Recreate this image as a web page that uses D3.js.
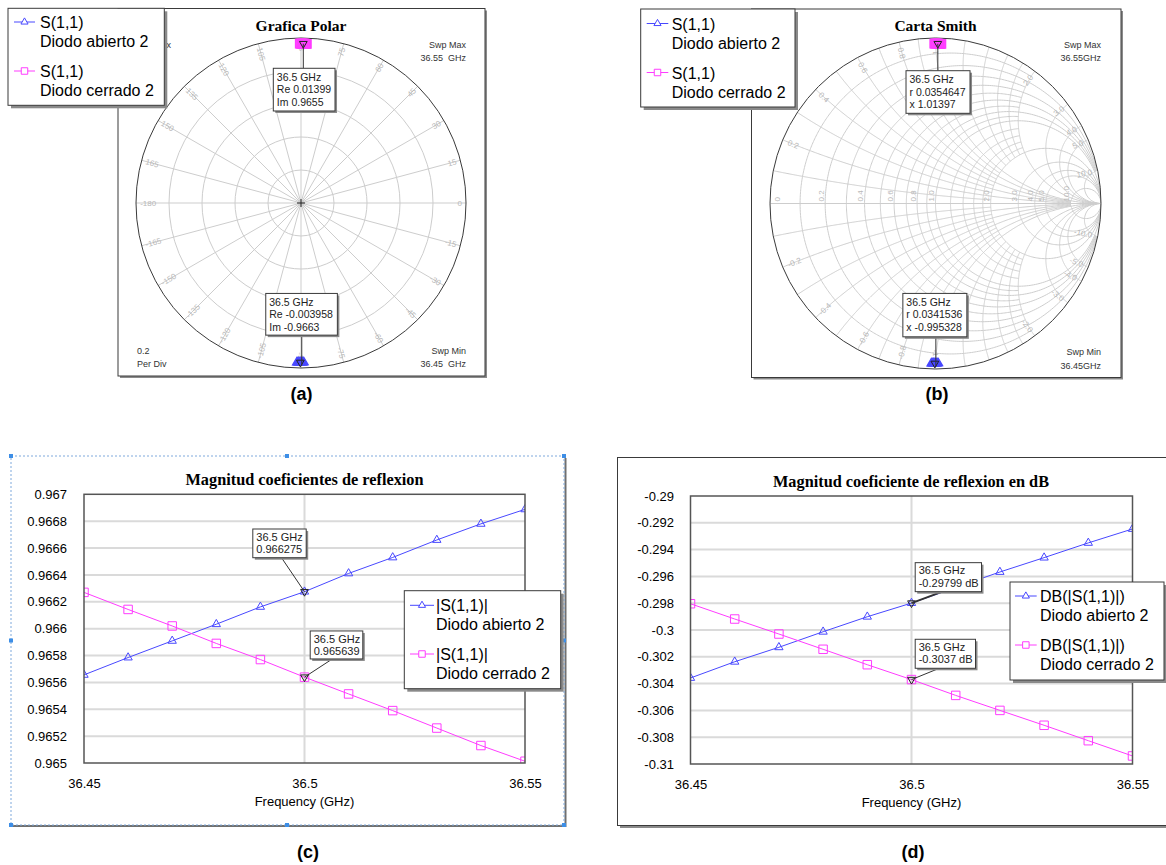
<!DOCTYPE html>
<html><head><meta charset="utf-8">
<script src="https://cdn.jsdelivr.net/npm/d3@7"></script>
<style>
body{margin:0;background:#fff;}
svg{display:block;}
</style></head><body>
<svg id="chart" width="1166" height="865"></svg>
<script>
// ---------------- DATA ----------------
const freqs = [36.45, 36.46, 36.47, 36.48, 36.49, 36.5, 36.51, 36.52, 36.53, 36.54, 36.55];
const magAbierto = [0.965656, 0.965785, 0.965909, 0.966033, 0.966162, 0.966275, 0.966411, 0.96653, 0.96666, 0.96678, 0.966888];
const magCerrado = [0.96627, 0.966143, 0.96602, 0.96589, 0.96577, 0.965639, 0.965514, 0.96539, 0.96526, 0.96513, 0.965013];
const dbAbierto = [-0.30358, -0.30237, -0.30129, -0.30013, -0.29901, -0.29799, -0.29683, -0.29567, -0.2946, -0.2935, -0.29246];
const dbCerrado = [-0.29804, -0.29918, -0.3003, -0.30144, -0.30259, -0.3037, -0.30488, -0.306, -0.30711, -0.30826, -0.3094];
const phaseAbierto = [-88.95, -89.2, -89.46, -89.72, -89.97, -90.23, -90.49, -90.75, -91.0, -91.26, -91.52];
const phaseCerrado = [90.45, 90.2, 89.95, 89.68, 89.42, 89.17, 88.92, 88.66, 88.4, 88.14, 87.88];
const markerFreq = 36.5;
const xTicks = [36.45, 36.5, 36.55];
const yTicksMag = [0.965, 0.9652, 0.9654, 0.9656, 0.9658, 0.966, 0.9662, 0.9664, 0.9666, 0.9668, 0.967];
const yTicksDb = [-0.31, -0.308, -0.306, -0.304, -0.302, -0.3, -0.298, -0.296, -0.294, -0.292, -0.29];
const polarRings = [0.2, 0.4, 0.6, 0.8, 1.0];
const polarAngles = [0, 15, 30, 45, 60, 75, 90, 105, 120, 135, 150, 165, -180, -165, -150, -135, -120, -105, -90, -75, -60, -45, -30, -15];
const smithRMajor = [0.2, 0.4, 0.6, 0.8, 1, 2, 3, 4, 5, 10];
const smithRMinor = [0.1, 0.3, 0.5, 0.7, 0.9, 1.2, 1.4, 1.6, 1.8];
const smithRLabels = ["0", "0.2", "0.4", "0.6", "0.8", "1.0", "2.0", "3.0", "4.0", "5.0", "10.0"];
const smithXLabels = ["0.2", "0.4", "0.6", "0.8", "1.0", "2.0", "3.0", "4.0", "5.0", "10.0"];
const readPolarCerrado = ["36.5 GHz", "Re 0.01399", "Im 0.9655"];
const readPolarAbierto = ["36.5 GHz", "Re -0.003958", "Im -0.9663"];
const readSmithCerrado = ["36.5 GHz", "r 0.0354647", "x 1.01397"];
const readSmithAbierto = ["36.5 GHz", "r 0.0341536", "x -0.995328"];
const readMagAbierto = ["36.5 GHz", "0.966275"];
const readMagCerrado = ["36.5 GHz", "0.965639"];
const readDbAbierto = ["36.5 GHz", "-0.29799 dB"];
const readDbCerrado = ["36.5 GHz", "-0.3037 dB"];

// ---------------- STYLE ----------------
const SANS = '"Liberation Sans", Arial, sans-serif';
const SERIF = '"Liberation Serif", "Times New Roman", serif';
const BLUE = "#4848ff", MAG = "#ff3cff";
const GRID = "#cdcdcd";
const svg = d3.select("#chart");
svg.append("rect").attr("width", 1166).attr("height", 865).attr("fill", "#fff");

const symTri = d3.symbol(d3.symbolTriangle, 30);
const symSq = d3.symbol(d3.symbolSquare, 72);
const symTriS = d3.symbol(d3.symbolTriangle, 22);
const symSqS = d3.symbol(d3.symbolSquare, 42);
const symMk = d3.symbol(d3.symbolTriangle, 26);

function shadowBox(g, x, y, w, h, off) {
  g.append("rect").attr("x", x + off).attr("y", y + off).attr("width", w).attr("height", h).attr("fill", "#8a8a8a");
  g.append("rect").attr("x", x).attr("y", y).attr("width", w).attr("height", h).attr("fill", "#fff").attr("stroke", "#3a3a3a").attr("stroke-width", 1);
}
function txt(g, x, y, s, size, opts = {}) {
  const t = g.append("text").attr("x", x).attr("y", y).text(s)
    .attr("font-family", opts.family || SANS).attr("font-size", size).attr("fill", opts.fill || "#000");
  if (opts.anchor) t.attr("text-anchor", opts.anchor);
  if (opts.weight) t.attr("font-weight", opts.weight);
  if (opts.pre) t.style("white-space", "pre");
  return t;
}
function legend(g, box, lx0, lx1, tx, rows) {
  shadowBox(g, box.x, box.y, box.w, box.h, 3);
  rows.forEach(r => {
    g.append("line").attr("x1", lx0).attr("x2", lx1).attr("y1", r.cy).attr("y2", r.cy).attr("stroke", r.color).attr("stroke-width", 1);
    g.append("path").attr("d", r.tri ? symTriS() : symSqS()).attr("transform", `translate(${(lx0 + lx1) / 2},${r.cy})`)
      .attr("fill", "#fff").attr("stroke", r.color).attr("stroke-width", 1);
    txt(g, tx, r.cy + 6, r.t1, 16);
    txt(g, tx, r.cy + 25, r.t2, 16);
  });
}
function readout(g, x, y, w, h, lines, size, lh, first) {
  shadowBox(g, x, y, w, h, 2);
  lines.forEach((s, i) => txt(g, x + 3.5, y + first + i * lh, s, size, {fill: "#222"}));
}
function invMarker(g, px, py) {
  g.append("path").attr("d", symMk()).attr("transform", `translate(${px},${py}) rotate(180)`)
    .attr("fill", "none").attr("stroke", "#222").attr("stroke-width", 1);
}

const iM = freqs.indexOf(markerFreq);
const gammaA = freqs.map((f, i) => [magAbierto[i] * Math.cos(phaseAbierto[i] * Math.PI / 180), magAbierto[i] * Math.sin(phaseAbierto[i] * Math.PI / 180)]);
const gammaC = freqs.map((f, i) => [magCerrado[i] * Math.cos(phaseCerrado[i] * Math.PI / 180), magCerrado[i] * Math.sin(phaseCerrado[i] * Math.PI / 180)]);

// ---------------- (a) POLAR ----------------
(function () {
  const g = svg.append("g");
  shadowBox(g, 118, 8.5, 367, 367.5, 2);
  const cx = 301, cy = 203, R = 165;
  const sx = d3.scaleLinear([-1, 1], [cx - R, cx + R]);
  const sy = d3.scaleLinear([-1, 1], [cy + R, cy - R]);
  polarAngles.forEach(a => {
    const t = a * Math.PI / 180;
    g.append("line").attr("x1", sx(0)).attr("y1", sy(0)).attr("x2", sx(Math.cos(t))).attr("y2", sy(Math.sin(t)))
      .attr("stroke", GRID).attr("stroke-width", 1);
  });
  polarRings.forEach(r => {
    g.append("circle").attr("cx", sx(0)).attr("cy", sy(0)).attr("r", sx(r) - sx(0)).attr("fill", "none")
      .attr("stroke", r === 1 ? "#3a3a3a" : GRID).attr("stroke-width", 1);
  });
  polarAngles.forEach(a => {
    const t = a * Math.PI / 180, rr = 0.975;
    const px = sx(rr * Math.cos(t)), py = sy(rr * Math.sin(t));
    const right = Math.abs(a) <= 90;
    const rot = right ? -a : 180 - a;
    txt(g, 0, 0, String(a), 8, {fill: "#b8b8b8", anchor: right ? "end" : "start"})
      .attr("dy", "0.35em").attr("transform", `translate(${px},${py}) rotate(${rot})`);
  });
  g.append("path").attr("d", `M${cx - 4},${cy}H${cx + 4}M${cx},${cy - 4}V${cy + 4}`).attr("stroke", "#222");
  txt(g, 301, 31, "Grafica Polar", 15.5, {family: SERIF, weight: "bold", anchor: "middle"});
  txt(g, 171, 48, "x", 9, {anchor: "end", fill: "#333"});
  txt(g, 466, 47.5, "Swp Max", 9, {anchor: "end", fill: "#333"});
  txt(g, 466, 61, "36.55  GHz", 9, {anchor: "end", fill: "#333", pre: true});
  txt(g, 466, 353.5, "Swp Min", 9, {anchor: "end", fill: "#333"});
  txt(g, 466, 367, "36.45  GHz", 9, {anchor: "end", fill: "#333", pre: true});
  txt(g, 137, 353.5, "0.2", 9, {fill: "#333"});
  txt(g, 137, 367, "Per Div", 9, {fill: "#333"});
  const line = d3.line().x(d => sx(d[0])).y(d => sy(d[1]));
  [[gammaC, MAG, false], [gammaA, BLUE, true]].forEach(([pts, col, tri]) => {
    g.append("path").attr("d", line(pts)).attr("fill", "none").attr("stroke", col);
    pts.forEach(p => g.append("path").attr("d", tri ? symTri() : symSq()).attr("transform", `translate(${sx(p[0])},${sy(p[1])})`)
      .attr("fill", "none").attr("stroke", col).attr("stroke-width", 1.3));
  });
  const pc = gammaC[iM], pa = gammaA[iM];
  invMarker(g, sx(pc[0]), sy(pc[1]));
  invMarker(g, sx(pa[0]), sy(pa[1]));
  g.append("line").attr("x1", sx(pc[0])).attr("x2", sx(pc[0])).attr("y1", sy(pc[1])).attr("y2", sy(pc[1]) + 25).attr("stroke", "#333");
  readout(g, sx(pc[0]) - 30, sy(pc[1]) + 24.6, 61.7, 42.7, readPolarCerrado, 10.5, 12.6, 12.3);
  g.append("line").attr("x1", sx(pa[0]) + 1.4).attr("x2", sx(pa[0]) + 1.4).attr("y1", sy(pa[1]) + 3).attr("y2", sy(pa[1]) - 28).attr("stroke", "#333");
  readout(g, sx(pa[0]) - 34.6, sy(pa[1]) - 69, 71.6, 41.7, readPolarAbierto, 10.5, 12.6, 12.3);
  legend(g, {x: 8, y: 8.3, w: 156.3, h: 97}, 14, 35, 40, [
    {cy: 22, color: BLUE, tri: true, t1: "S(1,1)", t2: "Diodo abierto 2"},
    {cy: 71, color: MAG, tri: false, t1: "S(1,1)", t2: "Diodo cerrado 2"}]);
  txt(svg, 301.5, 400, "(a)", 18, {weight: "bold", anchor: "middle"});
})();

// ---------------- (b) SMITH ----------------
(function () {
  const g = svg.append("g");
  shadowBox(g, 751.5, 9, 369.5, 368.5, 2);
  const cx = 935.5, cy = 203.5, R = 165.5;
  const sx = d3.scaleLinear([-1, 1], [cx - R, cx + R]);
  const sy = d3.scaleLinear([-1, 1], [cy + R, cy - R]);
  const gam = (r, x) => { const d = (r + 1) * (r + 1) + x * x; return [(r * r + x * x - 1) / d, 2 * x / d]; };
  const line = d3.line().x(d => sx(d[0])).y(d => sy(d[1]));
  const clipId = "smithClip";
  g.append("clipPath").attr("id", clipId).append("circle").attr("cx", cx).attr("cy", cy).attr("r", R);
  const gg = g.append("g").attr("clip-path", `url(#${clipId})`);
  function rCircle(r, X) {
    const tm = X === Infinity ? Math.PI / 2 - 1e-4 : Math.atan(X);
    const pts = d3.range(0, 401).map(k => { const t = -tm + 2 * tm * k / 400; return gam(r, Math.tan(t)); });
    gg.append("path").attr("d", line(pts)).attr("fill", "none").attr("stroke", GRID).attr("stroke-width", 1);
  }
  function xArc(x, Rm) {
    const um = Rm === Infinity ? Math.PI / 2 - 1e-4 : Math.atan(Rm);
    [x, -x].forEach(xx => {
      const pts = d3.range(0, 301).map(k => gam(Math.tan(um * k / 300), xx));
      gg.append("path").attr("d", line(pts)).attr("fill", "none").attr("stroke", GRID).attr("stroke-width", 1);
    });
  }
  smithRMinor.forEach(r => rCircle(r, 2));
  smithRMajor.forEach(r => rCircle(r, r < 1 ? 10 : Infinity));
  smithRMinor.forEach(x => xArc(x, 2));
  smithRMajor.forEach(x => xArc(x, x < 1 ? 10 : Infinity));
  gg.append("line").attr("x1", sx(-1)).attr("x2", sx(1)).attr("y1", sy(0)).attr("y2", sy(0)).attr("stroke", GRID);
  g.append("circle").attr("cx", cx).attr("cy", cy).attr("r", R).attr("fill", "none").attr("stroke", "#3a3a3a");
  smithRLabels.forEach(s => {
    const r = +s, p = gam(r, 0);
    const px = r === 0 ? sx(p[0]) + 10 : sx(p[0]) - 1.5;
    txt(g, 0, 0, s, 8, {fill: "#b8b8b8"}).attr("transform", `translate(${px},${sy(0) - 2}) rotate(-90)`);
  });
  smithXLabels.forEach(s => {
    [1, -1].forEach(sg => {
      const x = sg * (+s), p = gam(0, x);
      const a = Math.atan2(p[1], p[0]) * 180 / Math.PI;
      const rr = 0.965;
      const right = Math.abs(a) <= 90;
      txt(g, 0, 0, (sg < 0 ? "-" : "") + s, 8, {fill: "#b8b8b8", anchor: right ? "end" : "start"}).attr("dy", "0.35em")
        .attr("transform", `translate(${sx(rr * p[0])},${sy(rr * p[1])}) rotate(${right ? -a : 180 - a})`);
    });
  });
  txt(g, 935.5, 31, "Carta Smith", 15.5, {family: SERIF, weight: "bold", anchor: "middle"});
  txt(g, 1101, 47.5, "Swp Max", 9, {anchor: "end", fill: "#333"});
  txt(g, 1101, 61, "36.55GHz", 9, {anchor: "end", fill: "#333"});
  txt(g, 1101, 355, "Swp Min", 9, {anchor: "end", fill: "#333"});
  txt(g, 1101, 368.5, "36.45GHz", 9, {anchor: "end", fill: "#333"});
  [[gammaC, MAG, false], [gammaA, BLUE, true]].forEach(([pts, col, tri]) => {
    g.append("path").attr("d", line(pts)).attr("fill", "none").attr("stroke", col);
    pts.forEach(p => g.append("path").attr("d", tri ? symTri() : symSq()).attr("transform", `translate(${sx(p[0])},${sy(p[1])})`)
      .attr("fill", "none").attr("stroke", col).attr("stroke-width", 1.3));
  });
  const pc = gammaC[iM], pa = gammaA[iM];
  invMarker(g, sx(pc[0]), sy(pc[1]));
  invMarker(g, sx(pa[0]), sy(pa[1]));
  g.append("line").attr("x1", sx(pc[0])).attr("x2", sx(pc[0])).attr("y1", sy(pc[1])).attr("y2", sy(pc[1]) + 27).attr("stroke", "#333");
  readout(g, sx(pc[0]) - 31.8, sy(pc[1]) + 27, 64, 42.6, readSmithCerrado, 10.5, 12.6, 12.3);
  g.append("line").attr("x1", sx(pa[0]) + 1).attr("x2", sx(pa[0]) + 1).attr("y1", sy(pa[1]) + 3).attr("y2", sy(pa[1]) - 27).attr("stroke", "#333");
  readout(g, sx(pa[0]) - 32, sy(pa[1]) - 70, 64, 43.4, readSmithAbierto, 10.5, 12.6, 12.3);
  legend(g, {x: 640.7, y: 9, w: 154.3, h: 98}, 646.7, 668.3, 671.7, [
    {cy: 23.5, color: BLUE, tri: true, t1: "S(1,1)", t2: "Diodo abierto 2"},
    {cy: 72.5, color: MAG, tri: false, t1: "S(1,1)", t2: "Diodo cerrado 2"}]);
  txt(svg, 937, 400, "(b)", 18, {weight: "bold", anchor: "middle"});
})();

// ---------------- (c),(d) RECTANGULAR ----------------
function rectPanel(cfg) {
  const g = svg.append("g");
  const {x0, x1, y0, y1} = cfg;
  const x = d3.scaleLinear([xTicks[0], xTicks[xTicks.length - 1]], [x0, x1]);
  const y = d3.scaleLinear([cfg.yTicks[0], cfg.yTicks[cfg.yTicks.length - 1]], [y1, y0]);
  g.append("g").selectAll("line").data(cfg.yTicks.slice(1, -1)).join("line")
    .attr("x1", x0).attr("x2", x1).attr("y1", d => y(d)).attr("y2", d => y(d)).attr("stroke", "#dadada").attr("stroke-width", 2);
  g.append("g").selectAll("line").data(xTicks.slice(1, -1)).join("line")
    .attr("x1", d => x(d)).attr("x2", d => x(d)).attr("y1", y0).attr("y2", y1).attr("stroke", "#dadada").attr("stroke-width", 2);
  const ya = g.append("g").attr("transform", `translate(${x0},0)`)
    .call(d3.axisLeft(y).tickValues(cfg.yTicks).tickFormat(cfg.fmt).tickSize(0).tickPadding(x0 - cfg.labelRight));
  ya.select(".domain").remove();
  ya.attr("font-family", SANS).attr("font-size", 13).selectAll("text").attr("fill", "#000");
  const xa = g.append("g").attr("transform", `translate(0,${y1})`)
    .call(d3.axisBottom(x).tickValues(xTicks).tickFormat(d => String(d)).tickSize(0).tickPadding(16));
  xa.select(".domain").remove();
  xa.attr("font-family", SANS).attr("font-size", 13).selectAll("text").attr("fill", "#000");
  txt(g, x(36.5), y1 + 43, "Frequency (GHz)", 13, {anchor: "middle"});
  txt(g, cfg.titleX, y0 - 9.5, cfg.title, 16.3, {family: SERIF, weight: "bold", anchor: "middle"});
  g.append("clipPath").attr("id", cfg.id).append("rect").attr("x", x0).attr("y", y0).attr("width", x1 - x0).attr("height", y1 - y0);
  const pg = g.append("g").attr("clip-path", `url(#${cfg.id})`);
  const line = d3.line().x((d, i) => x(freqs[i])).y(d => y(d));
  cfg.series.forEach(s => {
    pg.append("path").attr("d", line(s.vals)).attr("fill", "none").attr("stroke", s.color).attr("stroke-width", 1);
    s.vals.forEach((v, i) => pg.append("path").attr("d", s.tri ? symTri() : symSq())
      .attr("transform", `translate(${x(freqs[i])},${y(v)})`).attr("fill", "none").attr("stroke", s.color).attr("stroke-width", 1));
  });
  g.append("rect").attr("x", x0).attr("y", y0).attr("width", x1 - x0).attr("height", y1 - y0)
    .attr("fill", "none").attr("stroke", "#555").attr("stroke-width", 1.5);
  cfg.series.forEach(s => {
    const px = x(markerFreq), py = y(s.vals[iM]);
    invMarker(g, px, py);
    g.append("line").attr("x1", px).attr("y1", py).attr("x2", px + s.lead[0]).attr("y2", py + s.lead[1]).attr("stroke", "#333").attr("stroke-width", s.lw || 1);
    readout(g, px + s.box[0], py + s.box[1], s.box[2], s.box[3], s.read, 11, 12.2, 11.8);
  });
  legend(g, cfg.leg.box, cfg.leg.lx0, cfg.leg.lx1, cfg.leg.tx, cfg.series.map((s, i) => ({
    cy: cfg.leg.rows[i], color: s.color, tri: s.tri, t1: s.legT1, t2: s.legT2})));
  return g;
}

(function () {
  const g = svg.append("g");
  g.append("line").attr("x1", 565.5).attr("x2", 565.5).attr("y1", 458).attr("y2", 827).attr("stroke", "#707070").attr("stroke-width", 2);
  g.append("line").attr("x1", 13).attr("x2", 566).attr("y1", 826).attr("y2", 826).attr("stroke", "#707070").attr("stroke-width", 2);
  g.append("rect").attr("x", 11).attr("y", 456).attr("width", 553).attr("height", 369).attr("fill", "#fff")
    .attr("stroke", "#7fa9dc").attr("stroke-width", 1).attr("stroke-dasharray", "2,2");
  [[11, 456], [287, 456], [564, 456], [11, 640.5], [564, 640.5], [11, 825], [287, 825], [564, 825]].forEach(p =>
    g.append("rect").attr("x", p[0] - 2).attr("y", p[1] - 2).attr("width", 4).attr("height", 4).attr("fill", "#3d8ee6"));
})();
rectPanel({
  id: "clipC", x0: 84, x1: 525, y0: 494.3, y1: 763, labelRight: 67,
  yTicks: yTicksMag, fmt: d => String(+d.toFixed(4)),
  title: "Magnitud coeficientes de reflexion", titleX: 304.5,
  series: [
    {vals: magAbierto, color: BLUE, tri: true, legT1: "|S(1,1)|", legT2: "Diodo abierto 2", read: readMagAbierto,
      box: [-51.7, -62.7, 53.4, 28.7], lead: [-23, -34]},
    {vals: magCerrado, color: MAG, tri: false, legT1: "|S(1,1)|", legT2: "Diodo cerrado 2", read: readMagCerrado,
      box: [5.7, -46.2, 52.6, 28], lead: [28.3, -18.5]}],
  leg: {box: {x: 404.3, y: 590.7, w: 156.4, h: 98}, lx0: 410, lx1: 434, tx: 436, rows: [605.3, 654]}
});
txt(svg, 308, 858, "(c)", 18, {weight: "bold", anchor: "middle"});

(function () {
  const g = svg.append("g");
  shadowBox(g, 617.5, 457.5, 560, 368, 2.5);
})();
rectPanel({
  id: "clipD", x0: 690.5, x1: 1132.5, y0: 496, y1: 764, labelRight: 674,
  yTicks: yTicksDb, fmt: d => String(+d.toFixed(3)),
  title: "Magnitud coeficiente de reflexion en dB", titleX: 911,
  series: [
    {vals: dbAbierto, color: BLUE, tri: true, legT1: "DB(|S(1,1)|)", legT2: "Diodo abierto 2", read: readDbAbierto,
      box: [3.7, -40.4, 66.3, 29], lead: [29.5, -11], lw: 2},
    {vals: dbCerrado, color: MAG, tri: false, legT1: "DB(|S(1,1)|)", legT2: "Diodo cerrado 2", read: readDbCerrado,
      box: [3.7, -40.3, 60.3, 29], lead: [27, -11]}],
  leg: {box: {x: 1010, y: 582, w: 154, h: 98}, lx0: 1015, lx1: 1036.7, tx: 1040, rows: [596, 645]}
});
txt(svg, 913, 858, "(d)", 18, {weight: "bold", anchor: "middle"});
</script>
</body></html>
